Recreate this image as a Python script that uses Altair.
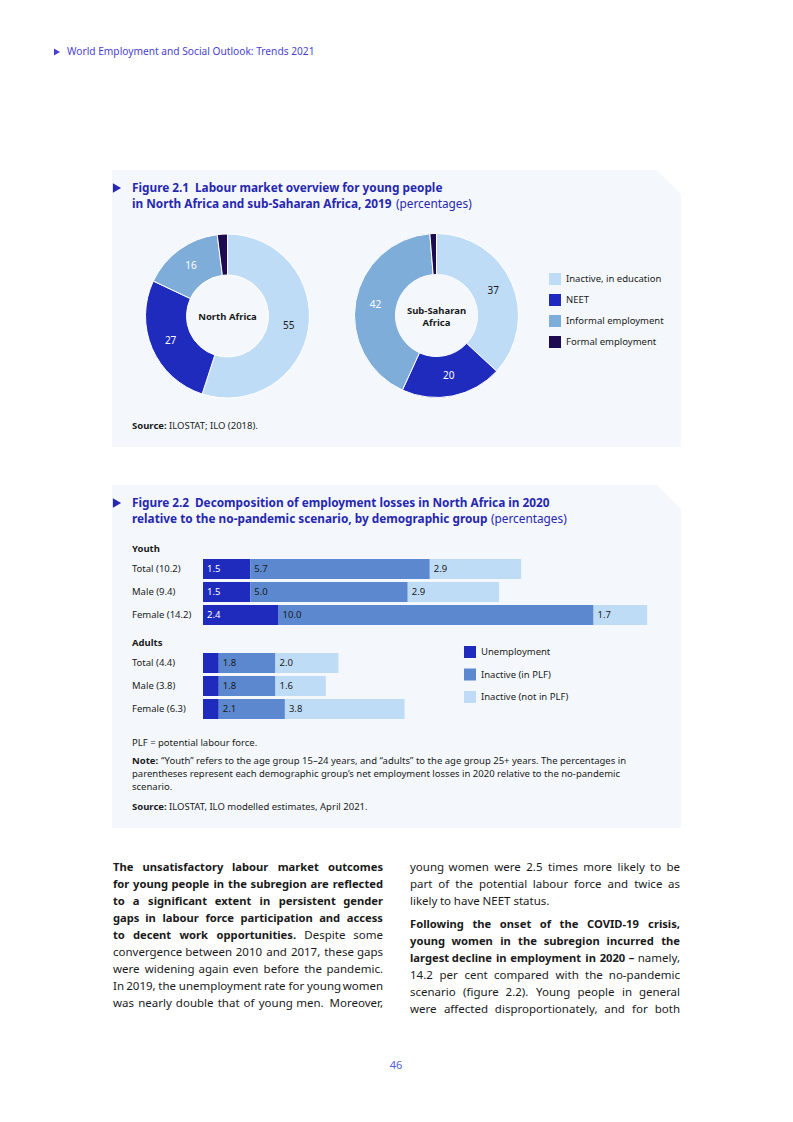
import altair as alt
import pandas as pd

FONT = "Noto Sans"
DARK = "#1a1a1a"
TITLE_BLUE = "#2727b0"
HEADER_BLUE = "#4a3fd0"
PAGE_BLUE = "#4f5fd8"
PANEL_BG = "#f4f8fc"

# ---------------- Figure 2.1 data ----------------
donut_cats = ["Inactive, in education", "NEET", "Informal employment", "Formal employment"]
donut_colors = ["#bfdcf7", "#1f2bbd", "#7fadda", "#1e0a4e"]
north_africa = [55, 27, 16, 2]
sub_saharan = [37, 20, 42, 1.3]

# ---------------- Figure 2.2 data ----------------
bar_components = ["Unemployment", "Inactive (in PLF)", "Inactive (not in PLF)"]
bar_colors = ["#1f2bbd", "#5b88cf", "#bfdcf7"]
youth_rows = ["Total (10.2)", "Male (9.4)", "Female (14.2)"]
youth_unemployment = [1.5, 1.5, 2.4]
youth_inactive_plf = [5.7, 5.0, 10.0]
youth_inactive_not_plf = [2.9, 2.9, 1.7]
adult_rows = ["Total (4.4)", "Male (3.8)", "Female (6.3)"]
adult_unemployment = [0.5, 0.5, 0.5]
adult_inactive_plf = [1.8, 1.8, 2.1]
adult_inactive_not_plf = [2.0, 1.6, 3.8]

# ---------------- Text content ----------------
header_text = "World Employment and Social Outlook: Trends 2021"
fig1_title = ["Figure 2.1\u2002Labour market overview for young people",
              "in North Africa and sub-Saharan Africa, 2019"]
fig2_title = ["Figure 2.2\u2002Decomposition of employment losses in North Africa in 2020",
              "relative to the no-pandemic scenario, by demographic group"]
unit_text = "(percentages)"
fig1_source = "ILOSTAT; ILO (2018)."
fig2_abbrev = "PLF = potential labour force."
fig2_note = ["\u201cYouth\u201d refers to the age group 15\u201324 years, and \u201cadults\u201d to the age group 25+ years. The percentages in",
             "parentheses represent each demographic group\u2019s net employment losses in 2020 relative to the no-pandemic",
             "scenario."]
fig2_source = "ILOSTAT, ILO modelled estimates, April 2021."
left_bold = ["The unsatisfactory labour market outcomes",
             "for young people in the subregion are reflected",
             "to a significant extent in persistent gender",
             "gaps in labour force participation and access",
             "to decent work opportunities."]
left_regular = ["Despite some",
                "convergence between 2010 and 2017, these gaps",
                "were widening again even before the pandemic.",
                "In 2019, the unemployment rate for young women",
                "was nearly double that of young men. Moreover,"]
right_regular1 = ["young women were 2.5 times more likely to be",
                  "part of the potential labour force and twice as",
                  "likely to have NEET status."]
right_bold = ["Following the onset of the COVID-19 crisis,",
              "young women in the subregion incurred the",
              "largest decline in employment in 2020 \u2013"]
right_regular2 = ["namely,",
                  "14.2 per cent compared with the no-pandemic",
                  "scenario (figure 2.2). Young people in general",
                  "were affected disproportionately, and for both"]
page_number = "46"


def px(v):
    return v - 8


# ---------------- approximate glyph advances (for justified body text) ----------------
REG = dict(zip("abcdefghijklmnopqrstuvwxyz",
               [556, 613, 476, 613, 561, 336, 548, 613, 253, 253, 525, 253, 930,
                613, 600, 613, 613, 409, 476, 350, 613, 500, 775, 514, 500, 464]))
REG.update(dict(zip("ABCDEFGHIJKLMNOPQRSTUVWXYZ",
                    [632, 648, 631, 729, 556, 522, 728, 738, 279, 267, 613, 524, 907,
                     761, 779, 602, 779, 618, 549, 553, 733, 584, 898, 576, 549, 560])))
REG.update({c: 572 for c in "0123456789"})
REG.update({",": 245, ".": 267, "-": 322, "(": 296, ")": 296, "\u2013": 500, ":": 267})
BOLD = dict(zip("abcdefghijklmnopqrstuvwxyz",
                [607, 640, 514, 640, 597, 378, 568, 661, 305, 305, 625, 305, 1000,
                 661, 621, 640, 640, 446, 498, 403, 661, 564, 856, 584, 564, 503]))
BOLD.update(dict(zip("ABCDEFGHIJKLMNOPQRSTUVWXYZ",
                     [690, 690, 649, 744, 568, 557, 745, 789, 372, 320, 678, 576, 963,
                      812, 787, 660, 787, 684, 561, 572, 780, 658, 980, 640, 610, 565])))
BOLD.update({c: 572 for c in "0123456789"})
BOLD.update({",": 285, ".": 285, "-": 322, "(": 339, ")": 339, "\u2013": 500, ":": 285})


def est(word, weight, size):
    table = BOLD if weight == "bold" else REG
    default = 620 if weight == "bold" else 580
    return sum(table.get(ch, default) for ch in word) / 1000 * size


# ---------------- text layout ----------------
texts = []


def T(txt, x, y, size=9.5, color=DARK, weight="normal", align="left"):
    texts.append(dict(txt=txt, x=px(x), y=px(y), size=size, color=color,
                      weight=weight, align=align))


def line(segments, L, R, y, justify=True):
    words = []
    for txt, w, size in segments:
        for wd in txt.split(" "):
            if wd:
                words.append((wd, w, size))
    widths = [est(wd, w, s) for wd, w, s in words]
    n = len(words)
    natural_gap = 0.26 * words[0][2]
    gap = natural_gap
    flush = False
    if justify and n > 1:
        g = (R - L - sum(widths)) / (n - 1)
        if g >= 1.5:
            gap, flush = g, True
    x = L
    for i, (wd, w, size) in enumerate(words):
        if flush and i == n - 1:
            T(wd, R, y, size, DARK, w, "right")
        else:
            T(wd, x, y, size, DARK, w, "left")
        x += widths[i] + gap


TS = 11.8
T(header_text, 67, 52, 10.2, HEADER_BLUE)
T(fig1_title[0], 132, 188, TS, TITLE_BLUE, "bold")
T(fig1_title[1], 132, 204, TS, TITLE_BLUE, "bold")
T(unit_text, 396, 204, TS, TITLE_BLUE)
T("Source:", 132, 426, 9.5, DARK, "bold")
T(fig1_source, 169, 426)
T("North Africa", 227.5, 317, 9.5, DARK, "bold", "center")
T("Sub-Saharan", 436.5, 311, 9.5, DARK, "bold", "center")
T("Africa", 436.5, 323, 9.5, DARK, "bold", "center")

T(fig2_title[0], 132, 503, TS, TITLE_BLUE, "bold")
T(fig2_title[1], 132, 519, TS, TITLE_BLUE, "bold")
T(unit_text, 491, 519, TS, TITLE_BLUE)
T("Youth", 132, 549, 9.5, DARK, "bold")
T("Adults", 132, 643, 9.5, DARK, "bold")
T(fig2_abbrev, 132, 743)
T("Note:", 132, 761, 9.5, DARK, "bold")
T(fig2_note[0], 161, 761)
T(fig2_note[1], 132, 774)
T(fig2_note[2], 132, 787)
T("Source:", 132, 807, 9.5, DARK, "bold")
T(fig2_source, 169, 807)

LEAD = 17
BR = 11.5   # regular body size
BB = 11.2   # bold body size
LX, RX = 113, 410
LR, RR = 383, 680
y0 = 868

left_lines = ([[(s, "bold", BB)] for s in left_bold[:4]]
              + [[(left_bold[4], "bold", BB), (left_regular[0], "normal", BR)]]
              + [[(s, "normal", BR)] for s in left_regular[1:]])
for i, segs in enumerate(left_lines):
    line(segs, LX, LR, y0 + i * LEAD, True)

for i, s in enumerate(right_regular1):
    line([(s, "normal", BR)], RX, RR, y0 + i * LEAD, i < len(right_regular1) - 1)
y1 = y0 + 3 * LEAD + 6
right_lines = ([[(s, "bold", BB)] for s in right_bold[:2]]
               + [[(right_bold[2], "bold", BB), (right_regular2[0], "normal", BR)]]
               + [[(s, "normal", BR)] for s in right_regular2[1:]])
for i, segs in enumerate(right_lines):
    line(segs, RX, RR, y1 + i * LEAD, True)

T(page_number, 396, 1066, 11, PAGE_BLUE, "normal", "center")

tdf = pd.DataFrame(texts)
text_layers = []
for (w, a), sub in tdf.groupby(["weight", "align"]):
    text_layers.append(
        alt.Chart(sub).mark_text(font=FONT, fontWeight=w, align=a, baseline="middle").encode(
            x=alt.X("x:Q", scale=None, axis=None),
            y=alt.Y("y:Q", scale=None, axis=None),
            text="txt:N",
            size=alt.Size("size:Q", scale=None, legend=None),
            color=alt.Color("color:N", scale=None, legend=None),
        )
    )

# ---------------- panels ----------------
panels = pd.DataFrame({"x": [px(112), px(112)], "x2": [px(681), px(681)],
                       "y": [px(170), px(485)], "y2": [px(447), px(828)]})
panel_layer = alt.Chart(panels).mark_rect(color=PANEL_BG).encode(
    x=alt.X("x:Q", scale=None, axis=None), x2="x2:Q",
    y=alt.Y("y:Q", scale=None, axis=None), y2="y2:Q")
cuts = pd.DataFrame({"x": [px(669), px(669)], "y": [px(182), px(497)]})
cut_layer = alt.Chart(cuts).mark_point(
    shape="M -1 -1 L 1 -1 L 1 1 Z", filled=True, opacity=1, size=676, color="white", strokeWidth=0
).encode(x=alt.X("x:Q", scale=None, axis=None), y=alt.Y("y:Q", scale=None, axis=None))

arrows = pd.DataFrame({"x": [px(57), px(117), px(117)], "y": [px(52), px(188), px(503)],
                       "s": [50, 90, 90], "c": [HEADER_BLUE, TITLE_BLUE, TITLE_BLUE]})
arrow_layer = alt.Chart(arrows).mark_point(shape="triangle-right", filled=True, opacity=1).encode(
    x=alt.X("x:Q", scale=None, axis=None), y=alt.Y("y:Q", scale=None, axis=None),
    size=alt.Size("s:Q", scale=None, legend=None), color=alt.Color("c:N", scale=None, legend=None))


# ---------------- donuts ----------------
def donut(values, cx, cy, legend):
    df = pd.DataFrame({"cat": donut_cats, "value": values, "idx": list(range(len(values)))})
    color = alt.Color("cat:N", scale=alt.Scale(domain=donut_cats, range=donut_colors), legend=legend)
    arc = alt.Chart(df).mark_arc(radius=82, radius2=41, stroke="white", strokeWidth=1).encode(
        theta=alt.Theta("value:Q", stack=True),
        color=color,
        order=alt.Order("idx:Q"),
        x=alt.value(px(cx)), y=alt.value(px(cy)))
    lab = alt.Chart(df).transform_calculate(
        lab="datum.value >= 5 ? format(datum.value, '.0f') : ''"
    ).mark_text(radius=62, font=FONT, fontSize=10, baseline="middle").encode(
        theta=alt.Theta("value:Q", stack=True),
        order=alt.Order("idx:Q"),
        detail="cat:N",
        text="lab:N",
        color=alt.condition("datum.cat == 'Inactive, in education'", alt.value(DARK), alt.value("white")),
        x=alt.value(px(cx)), y=alt.value(px(cy)))
    return [arc, lab]


donut_legend = alt.Legend(orient="none", legendX=px(549), legendY=px(273), title=None,
                          symbolType="square", symbolSize=144, symbolStrokeWidth=0,
                          labelFont=FONT, labelFontSize=9.5, labelColor=DARK,
                          rowPadding=9, labelOffset=5, padding=0)
donut_layers = donut(north_africa, 227.5, 316, None) + donut(sub_saharan, 436.5, 315.5, donut_legend)

# ---------------- bars ----------------
max_total = max(a + b + c for a, b, c in zip(youth_unemployment + adult_unemployment,
                                               youth_inactive_plf + adult_inactive_plf,
                                               youth_inactive_not_plf + adult_inactive_not_plf))
xs = alt.Scale(domain=[0, max_total], range=[px(203), px(203) + max_total * 31.5])
bar_legend = alt.Legend(orient="none", legendX=px(464), legendY=px(646), title=None,
                        symbolType="square", symbolSize=144, symbolStrokeWidth=0,
                        labelFont=FONT, labelFontSize=9.5, labelColor=DARK,
                        rowPadding=10.5, labelOffset=5, padding=0)


def bar_block(rows, unemp, plf, notplf, first_center, legend):
    recs = []
    for r, a, b, c in zip(rows, unemp, plf, notplf):
        for k, v in enumerate([a, b, c]):
            recs.append(dict(row=r, comp=bar_components[k], value=v, idx=k))
    df = pd.DataFrame(recs)
    step, band = 23, 20
    n = len(rows)
    ys = alt.Scale(domain=rows, range=[px(first_center - step / 2), px(first_center + (n - 1) * step + step / 2)],
                   paddingInner=(step - band) / step, paddingOuter=(step - band) / step / 2)
    base = alt.Chart(df).transform_stack(stack="value", as_=["x0", "x1"], groupby=["row"],
                                         sort=[alt.SortField("idx", order="ascending")])
    bars = base.mark_bar().encode(
        x=alt.X("x0:Q", scale=xs, axis=None), x2="x1:Q",
        y=alt.Y("row:N", scale=ys, axis=None),
        color=alt.Color("comp:N", scale=alt.Scale(domain=bar_components, range=bar_colors), legend=legend))
    labels = base.transform_filter("datum.value >= 1").mark_text(
        align="left", dx=4, baseline="middle", font=FONT, fontSize=9.5).encode(
        x=alt.X("x0:Q", scale=xs, axis=None),
        y=alt.Y("row:N", scale=ys, axis=None),
        text=alt.Text("value:Q", format=".1f"),
        color=alt.condition("datum.idx == 0", alt.value("white"), alt.value(DARK)))
    row_labels = alt.Chart(pd.DataFrame({"row": rows})).mark_text(
        align="left", baseline="middle", font=FONT, fontSize=9.5, color=DARK).encode(
        x=alt.value(px(132)), y=alt.Y("row:N", scale=ys, axis=None), text="row:N")
    return [bars, labels, row_labels]


bar_layers = (bar_block(youth_rows, youth_unemployment, youth_inactive_plf, youth_inactive_not_plf, 569, None)
              + bar_block(adult_rows, adult_unemployment, adult_inactive_plf, adult_inactive_not_plf, 663, bar_legend))

chart = alt.layer(
    panel_layer, cut_layer, arrow_layer, *donut_layers, *bar_layers, *text_layers
).resolve_scale(
    x="independent", y="independent", color="independent", theta="independent", size="independent"
).properties(
    width=777, height=1090, padding=0, autosize=alt.AutoSizeParams(type="none"), background="white"
).configure_view(strokeWidth=0)

chart.save("out.html", embed_options={"renderer": "svg", "actions": False})
